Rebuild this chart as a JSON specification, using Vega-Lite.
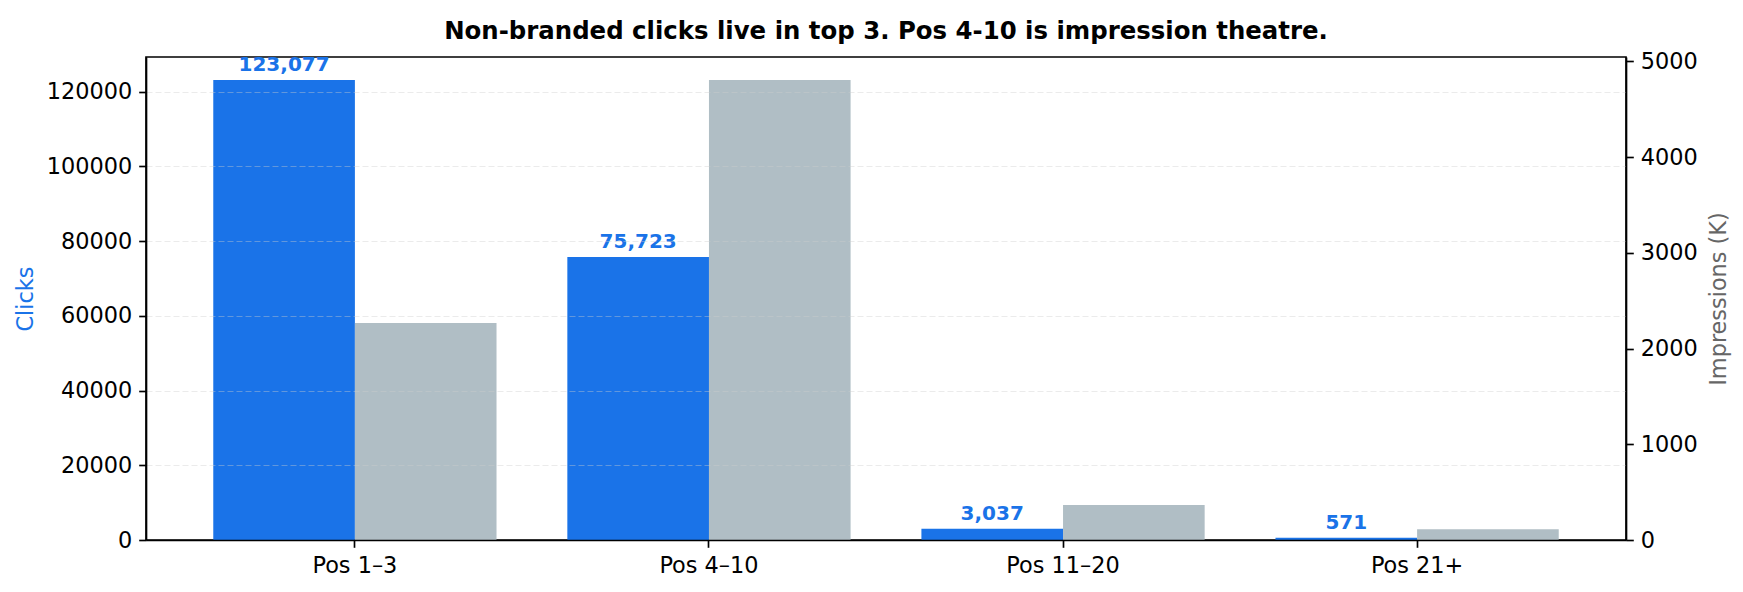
{
  "$schema": "https://vega.github.io/schema/vega-lite/v6.json",
  "autosize": {"type": "none"},
  "padding": {"left": 146, "top": 57, "right": 117, "bottom": 52},
  "width": 1480,
  "height": 483,
  "background": "white",
  "title": {
    "text": "Non-branded clicks live in top 3. Pos 4-10 is impression theatre.",
    "font": "DejaVu Sans",
    "fontSize": 24.4,
    "fontWeight": "bold",
    "color": "black",
    "anchor": "middle",
    "frame": "group",
    "baseline": "alphabetic",
    "offset": 23,
    "dy": 36
  },
  "data": {
    "values": [
      {"position": "Pos 1–3", "clicks": 123077, "impressions": 2267},
      {"position": "Pos 4–10", "clicks": 75723, "impressions": 4807},
      {"position": "Pos 11–20", "clicks": 3037, "impressions": 366},
      {"position": "Pos 21+", "clicks": 571, "impressions": 112}
    ]
  },
  "encoding": {
    "x": {
      "field": "position",
      "type": "nominal",
      "sort": null,
      "scale": {"paddingInner": 0.2, "paddingOuter": 0.19},
      "axis": {
        "title": null,
        "labelAngle": 0,
        "labelFontSize": 22.4,
        "labelColor": "black",
        "labelPadding": 7,
        "tickSize": 7.3,
        "tickWidth": 1.67,
        "tickColor": "black",
        "domainColor": "black",
        "domainWidth": 1.67,
        "grid": false,
        "zindex": 2
      }
    }
  },
  "layer": [
    {
      "encoding": {
        "y": {
          "field": "clicks",
          "type": "quantitative",
          "scale": {"domain": [0, 129231], "nice": false, "zero": true},
          "axis": {
            "title": "Clicks",
            "titleColor": "#1a73e8",
            "titleFontSize": 22.4,
            "titleFontWeight": "normal",
            "titlePadding": 9,
            "values": [0, 20000, 40000, 60000, 80000, 100000, 120000],
            "format": "d",
            "labelFontSize": 22.4,
            "labelColor": "black",
            "labelPadding": 7,
            "tickSize": 7.3,
            "tickWidth": 1.67,
            "tickColor": "black",
            "domainColor": "black",
            "domainWidth": 1.67,
            "grid": true,
            "gridColor": "#cccccc",
            "gridOpacity": 0.4,
            "gridWidth": 1.2,
            "gridDash": [6, 3],
            "zindex": 1
          }
        },
        "xOffset": {"datum": "Clicks", "scale": {"domain": ["Clicks", "Impressions"], "paddingInner": 0, "paddingOuter": 0}}
      },
      "layer": [
        {"mark": {"type": "bar", "color": "#1a73e8"}},
        {
          "mark": {
            "type": "text",
            "color": "#1a73e8",
            "fontWeight": "bold",
            "fontSize": 20,
            "baseline": "alphabetic",
            "dy": -9
          },
          "encoding": {"text": {"field": "clicks", "type": "quantitative", "format": ","}}
        }
      ]
    },
    {
      "mark": {"type": "bar", "color": "#b0bec5"},
      "encoding": {
        "y": {
          "field": "impressions",
          "type": "quantitative",
          "scale": {"domain": [0, 5047], "nice": false, "zero": true},
          "axis": {
            "orient": "right",
            "title": "Impressions (K)",
            "titleColor": "#666666",
            "titleFontSize": 22.4,
            "titleFontWeight": "normal",
            "titleAngle": 270,
            "titleBaseline": "bottom",
            "titlePadding": 33,
            "values": [0, 1000, 2000, 3000, 4000, 5000],
            "format": "d",
            "labelFontSize": 22.4,
            "labelColor": "black",
            "labelPadding": 7,
            "tickSize": 7.3,
            "tickWidth": 1.67,
            "tickColor": "black",
            "domainColor": "black",
            "domainWidth": 1.67,
            "grid": false,
            "zindex": 2
          }
        },
        "xOffset": {"datum": "Impressions", "scale": {"domain": ["Clicks", "Impressions"], "paddingInner": 0, "paddingOuter": 0}}
      }
    }
  ],
  "resolve": {"scale": {"y": "independent"}},
  "config": {
    "font": "DejaVu Sans",
    "view": {"stroke": "black", "strokeWidth": 1.67},
    "axis": {"labelFont": "DejaVu Sans", "titleFont": "DejaVu Sans"}
  }
}
